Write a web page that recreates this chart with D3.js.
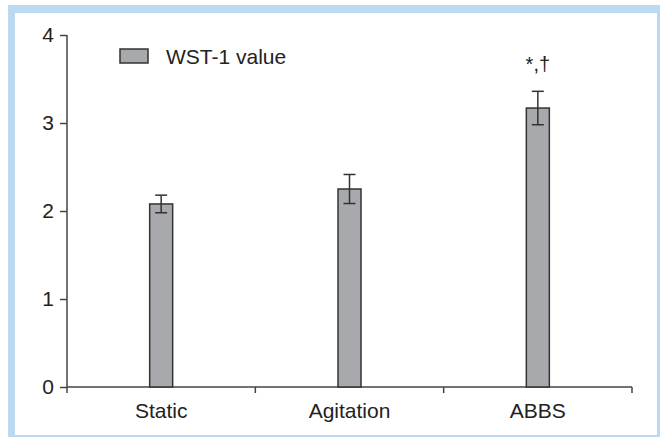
<!DOCTYPE html>
<html><head><meta charset="utf-8">
<script src="https://cdn.jsdelivr.net/npm/d3@7/dist/d3.min.js"></script>
<style>body{margin:0;background:#fff}svg{display:block}</style>
</head><body>
<svg id="c" width="660" height="437"></svg>
<script>
const categories = ["Static", "Agitation", "ABBS"];
const values = [2.08, 2.25, 3.17];
const errors = [0.10, 0.165, 0.19];
const annotations = ["", "", "*,\u2020"];
const yTicks = [0, 1, 2, 3, 4];
const legendLabel = "WST-1 value";

const svg = d3.select("#c");
const font = "'Liberation Sans', Arial, sans-serif";
const axisColor = "#444";

// frame
svg.append("rect").attr("x", 8).attr("y", 5).attr("width", 652).attr("height", 432).attr("fill", "#bdd9f1");
svg.append("rect").attr("x", 15).attr("y", 13).attr("width", 642).attr("height", 422).attr("fill", "#fff");

const x0 = 67, x1 = 632, yTop = 35, yBot = 387;
const x = d3.scaleBand().domain(categories).range([x0, x1]);
const y = d3.scaleLinear().domain([0, 4]).range([yBot, yTop]);

// y axis
const ya = svg.append("g").attr("transform", `translate(${x0},0)`)
  .call(d3.axisLeft(y).tickValues(yTicks).tickFormat(d3.format("d")).tickSize(7).tickPadding(6).tickSizeOuter(0));
ya.select(".domain").remove();
ya.selectAll("line").attr("stroke", axisColor).attr("stroke-width", 1.5);
ya.selectAll("text").attr("font-family", font).attr("font-size", 21).attr("fill", "#222");
svg.append("line").attr("x1", x0).attr("x2", x0).attr("y1", yTop).attr("y2", yBot + 6)
  .attr("stroke", axisColor).attr("stroke-width", 1.5);

// x axis
svg.append("line").attr("x1", x0).attr("x2", x1).attr("y1", yBot).attr("y2", yBot)
  .attr("stroke", axisColor).attr("stroke-width", 1.5);
const bounds = categories.slice(1).map(c => x(c)).concat([x1]);
svg.selectAll(".xt").data(bounds).enter().append("line")
  .attr("x1", d => d).attr("x2", d => d).attr("y1", yBot).attr("y2", yBot + 6)
  .attr("stroke", axisColor).attr("stroke-width", 1.5);
svg.selectAll(".xl").data(categories).enter().append("text")
  .attr("x", d => x(d) + x.bandwidth() / 2).attr("y", 418)
  .attr("text-anchor", "middle").attr("font-family", font).attr("font-size", 21).attr("fill", "#222")
  .text(d => d);

// bars
const bw = 23;
const data = categories.map((c, i) => ({c, v: values[i], e: errors[i], a: annotations[i]}));
svg.selectAll(".bar").data(data).enter().append("rect")
  .attr("x", d => x(d.c) + x.bandwidth() / 2 - bw / 2)
  .attr("y", d => y(d.v)).attr("width", bw).attr("height", d => yBot - y(d.v))
  .attr("fill", "#a8a9ac").attr("stroke", "#333").attr("stroke-width", 1.5);

// error bars
const cap = 6;
const eb = svg.selectAll(".eb").data(data).enter().append("g");
eb.append("line").attr("x1", d => x(d.c) + x.bandwidth() / 2).attr("x2", d => x(d.c) + x.bandwidth() / 2)
  .attr("y1", d => y(d.v + d.e)).attr("y2", d => y(d.v - d.e)).attr("stroke", "#333").attr("stroke-width", 1.5);
[1, -1].forEach(s => {
  eb.append("line").attr("x1", d => x(d.c) + x.bandwidth() / 2 - cap).attr("x2", d => x(d.c) + x.bandwidth() / 2 + cap)
    .attr("y1", d => y(d.v + s * d.e)).attr("y2", d => y(d.v + s * d.e)).attr("stroke", "#333").attr("stroke-width", 1.5);
});
eb.append("text").attr("x", d => x(d.c) + x.bandwidth() / 2).attr("y", d => y(d.v + d.e) - 20)
  .attr("text-anchor", "middle").attr("font-family", font).attr("font-size", 20).attr("fill", "#222")
  .text(d => d.a);

// legend
svg.append("rect").attr("x", 120).attr("y", 49).attr("width", 28).attr("height", 14)
  .attr("fill", "#a8a9ac").attr("stroke", "#333").attr("stroke-width", 1.5);
svg.append("text").attr("x", 166).attr("y", 64).attr("font-family", font).attr("font-size", 21)
  .attr("fill", "#222").text(legendLabel);
</script>
</body></html>
